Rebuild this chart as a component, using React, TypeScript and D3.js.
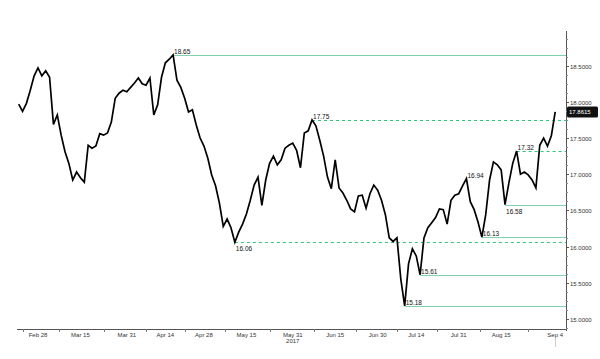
import { useEffect, useRef } from "react";
import * as d3 from "d3";

// USD/MXN daily closes, trading days from Feb 21 2017 to Sep 4 2017
const closes = [
  17.97, 17.87, 17.98, 18.16, 18.36, 18.47, 18.36, 18.43, 18.34, 17.69,
  17.82, 17.54, 17.31, 17.15, 16.92, 17.03, 16.95, 16.89, 17.4, 17.36,
  17.39, 17.56, 17.54, 17.57, 17.72, 18.05, 18.12, 18.16, 18.14, 18.2,
  18.26, 18.33, 18.25, 18.23, 18.33, 17.82, 17.96, 18.34, 18.54, 18.59,
  18.65, 18.3, 18.2, 18.05, 17.86, 17.89, 17.68, 17.5, 17.39, 17.22,
  16.99, 16.84, 16.6, 16.28, 16.38, 16.26, 16.06, 16.2, 16.31, 16.45,
  16.64, 16.85, 16.96, 16.57, 16.92, 17.15, 17.25, 17.13, 17.2, 17.36,
  17.4, 17.43, 17.33, 17.09, 17.57, 17.6, 17.75, 17.67, 17.47, 17.25,
  16.96, 16.8, 17.2, 16.81, 16.74, 16.64, 16.52, 16.48, 16.7, 16.71,
  16.53, 16.73, 16.85, 16.78, 16.64, 16.44, 16.12, 16.07, 16.12, 15.55,
  15.18, 15.76, 15.97, 15.87, 15.61, 16.12, 16.26, 16.33, 16.4, 16.52,
  16.51, 16.31, 16.64, 16.71, 16.73, 16.84, 16.94, 16.62, 16.51, 16.34,
  16.13, 16.44, 16.92, 17.17, 17.13, 17.06, 16.58, 16.88, 17.15, 17.32,
  17.0, 17.03, 16.99, 16.92, 16.81, 17.4, 17.5, 17.39, 17.53, 17.8615,
];

const startDate = new Date(2017, 1, 21);

const tickDates = [
  "2017-02-28", "2017-03-15", "2017-03-31", "2017-04-14", "2017-04-28",
  "2017-05-15", "2017-05-31", "2017-06-15", "2017-06-30", "2017-07-14",
  "2017-07-31", "2017-08-15", "2017-09-04",
];

const yTicks = [15, 15.5, 16, 16.5, 17, 17.5, 18, 18.5];

// highs / lows marked on the chart
const levels = [18.65, 17.75, 17.32, 16.94, 16.58, 16.13, 16.06, 15.61, 15.18];
const dashedLevels = [17.75, 17.32, 16.06];
const labelOnlyLevels = [16.94];
const labelBelowLevels = [16.58, 16.06];

export default function App() {
  const svgRef = useRef<SVGSVGElement>(null);

  useEffect(() => {
    if (!svgRef.current) return;
    d3.select(svgRef.current).selectAll("*").remove();

    const width = 600;
    const height = 359;
    const font = "'Liberation Sans', Arial, sans-serif";

    // trading-day calendar
    const dates: Date[] = [];
    const d = new Date(startDate);
    while (dates.length < closes.length) {
      const wd = d.getDay();
      if (wd !== 0 && wd !== 6) dates.push(new Date(d));
      d.setDate(d.getDate() + 1);
    }
    const fmtKey = d3.timeFormat("%Y-%m-%d");
    const keys = dates.map((x) => fmtKey(x));
    const parse = d3.timeParse("%Y-%m-%d");

    const svg = d3
      .select(svgRef.current)
      .attr("width", width)
      .attr("height", height)
      .attr("viewBox", `0 0 ${width} ${height}`)
      .style("position", "absolute")
      .style("left", "0px")
      .style("top", "0px")
      .style("background", "#fff");

    const plotLeft = 17;
    const plotRight = 566;
    const plotTop = 31;
    const plotBottom = 329;

    const xScale = d3
      .scaleLinear()
      .domain([0, closes.length - 1])
      .range([18.7, 555.2]);

    const yScale = d3
      .scaleLinear()
      .domain([14.86, 18.98])
      .range([plotBottom, plotTop]);

    // level lines
    const lg = svg.append("g").attr("class", "levels");
    levels.forEach((lv) => {
      const idx = closes.findIndex((c) => Math.abs(c - lv) < 0.001);
      const x0 = xScale(idx);
      const y0 = Math.round(yScale(lv)) + 0.5;
      const dashed = dashedLevels.includes(lv);
      if (!labelOnlyLevels.includes(lv)) {
        lg.append("line")
          .attr("x1", x0)
          .attr("x2", plotRight)
          .attr("y1", y0)
          .attr("y2", y0)
          .attr("stroke", dashed ? "#2fc47f" : "#7fd2ab")
          .attr("stroke-width", 1)
          .attr("stroke-dasharray", dashed ? "3,3" : null);
      }
      const below = labelBelowLevels.includes(lv);
      lg.append("text")
        .attr("x", x0 + 1)
        .attr("y", below ? y0 + 8 : y0 - 1.5)
        .attr("font-family", font)
        .attr("font-size", 6.5)
        .attr("fill", "#111")
        .text(lv.toFixed(2));
    });

    // price line
    const line = d3
      .line<number>()
      .x((_, i) => xScale(i))
      .y((v) => yScale(v));

    svg
      .append("path")
      .datum(closes)
      .attr("fill", "none")
      .attr("stroke", "#000")
      .attr("stroke-width", 1.7)
      .attr("stroke-linejoin", "miter")
      .attr("d", line);

    // right axis
    const ax = svg.append("g").attr("class", "y-axis");
    ax.append("line")
      .attr("x1", plotRight + 0.5)
      .attr("x2", plotRight + 0.5)
      .attr("y1", plotTop)
      .attr("y2", plotBottom + 2)
      .attr("stroke", "#555");
    const minor = d3.range(14.875, 18.98, 0.125).filter(
      (v) => !yTicks.includes(v)
    );
    minor.forEach((v) => {
      const y = Math.round(yScale(v)) + 0.5;
      ax.append("line")
        .attr("x1", plotRight)
        .attr("x2", plotRight + 2)
        .attr("y1", y)
        .attr("y2", y)
        .attr("stroke", "#888");
    });
    yTicks.forEach((v) => {
      const y = Math.round(yScale(v)) + 0.5;
      ax.append("line")
        .attr("x1", plotRight)
        .attr("x2", plotRight + 3)
        .attr("y1", y)
        .attr("y2", y)
        .attr("stroke", "#555");
      ax.append("text")
        .attr("x", plotRight + 4)
        .attr("y", y + 2.2)
        .attr("font-family", font)
        .attr("font-size", 6)
        .attr("fill", "#333")
        .text(d3.format(".4f")(v));
    });

    // last value tag
    const last = closes[closes.length - 1];
    const ly = yScale(last);
    ax.append("rect")
      .attr("x", plotRight + 1)
      .attr("y", ly - 5.5)
      .attr("width", 31)
      .attr("height", 11)
      .attr("rx", 1.5)
      .attr("fill", "#111");
    ax.append("text")
      .attr("x", plotRight + 3)
      .attr("y", ly + 2.2)
      .attr("font-family", font)
      .attr("font-size", 6)
      .attr("fill", "#fff")
      .text(d3.format(".4f")(last));

    // bottom axis
    const bx = svg.append("g").attr("class", "x-axis");
    bx.append("line")
      .attr("x1", plotLeft)
      .attr("x2", plotRight)
      .attr("y1", plotBottom + 0.5)
      .attr("y2", plotBottom + 0.5)
      .attr("stroke", "#555");

    const tickIdx = tickDates.map((s) => keys.indexOf(s));
    const bounds = [1];
    for (let i = 1; i < tickIdx.length; i++) {
      bounds.push((tickIdx[i - 1] + tickIdx[i]) / 2);
    }
    bounds.forEach((b) => {
      const x = Math.round(xScale(b)) + 0.5;
      bx.append("line")
        .attr("x1", x)
        .attr("x2", x)
        .attr("y1", plotBottom)
        .attr("y2", plotBottom + 3)
        .attr("stroke", "#777");
    });

    // today marker
    const xt = Math.round(xScale(tickIdx[tickIdx.length - 1])) + 0.5;
    bx.append("line")
      .attr("x1", xt)
      .attr("x2", xt)
      .attr("y1", plotBottom + 9)
      .attr("y2", plotBottom + 18)
      .attr("stroke", "#ccc");

    const fmtTick = d3.timeFormat("%b %-d");
    tickDates.forEach((s, i) => {
      const dt = parse(s) as Date;
      const x = xScale(tickIdx[i]);
      bx.append("text")
        .attr("x", x)
        .attr("y", plotBottom + 7.5)
        .attr("text-anchor", "middle")
        .attr("font-family", font)
        .attr("font-size", 6)
        .attr("fill", "#333")
        .text(fmtTick(dt));
      if (s === "2017-05-31") {
        bx.append("text")
          .attr("x", x)
          .attr("y", plotBottom + 14)
          .attr("text-anchor", "middle")
          .attr("font-family", font)
          .attr("font-size", 6)
          .attr("fill", "#333")
          .text("2017");
      }
    });
  }, []);

  return (
    <div>
      <svg ref={svgRef}></svg>
    </div>
  );
}
